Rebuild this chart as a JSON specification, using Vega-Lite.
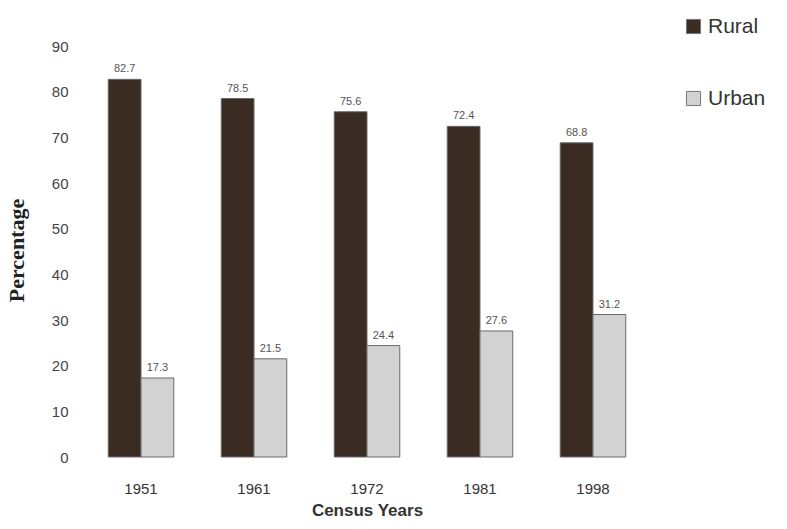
{
  "$schema": "https://vega.github.io/schema/vega-lite/v6.json",
  "width": 574,
  "height": 411,
  "autosize": {"type": "none"},
  "padding": {"left": 80, "top": 46, "right": 133, "bottom": 72},
  "background": "white",
  "config": {"view": {"stroke": null}, "font": "Liberation Sans"},
  "data": {
    "values": [
      {"year": "1951", "area": "Rural", "pct": 82.7},
      {"year": "1951", "area": "Urban", "pct": 17.3},
      {"year": "1961", "area": "Rural", "pct": 78.5},
      {"year": "1961", "area": "Urban", "pct": 21.5},
      {"year": "1972", "area": "Rural", "pct": 75.6},
      {"year": "1972", "area": "Urban", "pct": 24.4},
      {"year": "1981", "area": "Rural", "pct": 72.4},
      {"year": "1981", "area": "Urban", "pct": 27.6},
      {"year": "1998", "area": "Rural", "pct": 68.8},
      {"year": "1998", "area": "Urban", "pct": 31.2}
    ]
  },
  "encoding": {
    "x": {
      "field": "year", "type": "nominal",
      "scale": {"paddingInner": 0.42, "paddingOuter": 0.25},
      "axis": {
        "title": "Census Years", "labelAngle": 0, "labelFontSize": 15, "labelColor": "#333",
        "labelPadding": 24, "ticks": false, "domain": false,
        "titleFontSize": 17, "titleFontWeight": "bold", "titleColor": "#333", "titlePadding": 6
      }
    },
    "xOffset": {"field": "area", "type": "nominal"},
    "y": {
      "field": "pct", "type": "quantitative",
      "scale": {"domain": [0, 90]},
      "axis": {
        "values": [0, 10, 20, 30, 40, 50, 60, 70, 80, 90],
        "title": "Percentage", "titleFont": "Liberation Serif", "titleFontSize": 22,
        "titleFontWeight": "bold", "titleColor": "#222", "titleX": -52, "titleY": 204,
        "labelFontSize": 15, "labelColor": "#444", "labelPadding": 12,
        "ticks": false, "domain": false, "grid": false
      }
    }
  },
  "layer": [
    {
      "mark": {"type": "bar", "stroke": "#6a6a6a", "strokeWidth": 1},
      "encoding": {
        "color": {
          "field": "area", "type": "nominal",
          "scale": {"domain": ["Rural", "Urban"], "range": ["#3a2c22", "#d2d2d2"]},
          "legend": {
            "title": null, "orient": "none", "legendX": 603, "legendY": -30,
            "symbolType": "square", "symbolSize": 200, "symbolStrokeColor": "#777",
            "symbolStrokeWidth": 1, "labelFontSize": 21, "labelColor": "#333",
            "rowPadding": 50, "labelOffset": 4
          }
        }
      }
    },
    {
      "mark": {"type": "text", "dy": -10, "fontSize": 11, "color": "#555"},
      "encoding": {"text": {"field": "pct", "type": "quantitative", "format": ".1f"}}
    }
  ]
}
